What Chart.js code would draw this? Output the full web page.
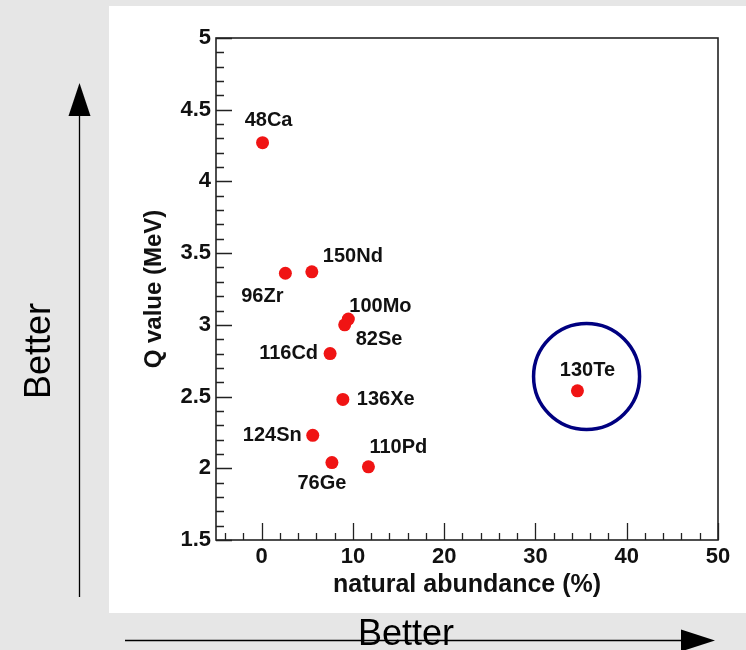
<!DOCTYPE html>
<html>
<head>
<meta charset="utf-8">
<script src="https://cdn.jsdelivr.net/npm/chart.js@4"></script>
<style>
  html, body { margin: 0; padding: 0; background: #e6e6e6; }
  canvas { display: block; }
</style>
</head>
<body>
<canvas id="qChart" width="746" height="650"></canvas>
<script>
// isotopes: natural abundance (%) and Q value (MeV)
var isotopes = ['48Ca', '96Zr', '150Nd', '100Mo', '82Se', '116Cd', '136Xe', '124Sn', '76Ge', '110Pd', '130Te'];
var abundance = [0.1, 2.6, 5.5, 9.5, 9.1, 7.5, 8.9, 5.6, 7.7, 11.7, 34.6];
var qValues = [4.27, 3.36, 3.37, 3.04, 3.00, 2.80, 2.48, 2.23, 2.04, 2.01, 2.54];

// the highlight ring around 130Te
var ringX = [35.6];
var ringY = [2.64];

var xTicks = [0, 10, 20, 30, 40, 50];
var yTicks = [1.5, 2, 2.5, 3, 3.5, 4, 4.5, 5];

// where each name sits next to its point: dx, dy, align
var labelPlace = {
  '48Ca': [6, -22, 'center'],
  '96Zr': [-23, 23, 'center'],
  '150Nd': [11, -15, 'left'],
  '100Mo': [1, -13, 'left'],
  '82Se': [11, 15, 'left'],
  '116Cd': [-12, 0, 'right'],
  '136Xe': [14, 0, 'left'],
  '124Sn': [-11, 0, 'right'],
  '76Ge': [-10, 21, 'center'],
  '110Pd': [1, -19, 'left'],
  '130Te': [10, -20, 'center']
};

var boldFont = '"Liberation Sans", Arial, sans-serif';

// gray page with the white panel behind the plot
var backdrop = {
  id: 'backdrop',
  beforeDraw: function(chart) {
    var ctx = chart.ctx;
    ctx.save();
    ctx.fillStyle = '#e6e6e6';
    ctx.fillRect(0, 0, chart.width, chart.height);
    ctx.fillStyle = '#ffffff';
    ctx.fillRect(109, 6, chart.width - 109, 607);
    ctx.restore();
  }
};

// frame and inward ticks (ROOT style)
var frame = {
  id: 'frame',
  beforeDatasetsDraw: function(chart) {
    var ctx = chart.ctx, a = chart.chartArea;
    var xs = chart.scales.x, ys = chart.scales.y;
    ctx.save();
    ctx.strokeStyle = '#222';
    ctx.lineWidth = 1.3;
    ctx.beginPath();
    var start = Math.ceil(xs.min / 2);
    for (var i = start; i * 2 <= xs.max; i++) {
      var px = Math.round(xs.getPixelForValue(i * 2)) + 0.5;
      var len = (i * 2) % 10 === 0 ? 17 : 7;
      ctx.moveTo(px, a.bottom);
      ctx.lineTo(px, a.bottom - len);
    }
    var n = Math.round((ys.max - ys.min) / 0.1);
    for (var j = 0; j <= n; j++) {
      var py = Math.round(ys.getPixelForValue(ys.min + j * 0.1)) + 0.5;
      var l = j % 5 === 0 ? 16 : 8;
      ctx.moveTo(a.left, py);
      ctx.lineTo(a.left + l, py);
    }
    ctx.stroke();
    ctx.lineWidth = 1.6;
    ctx.strokeRect(a.left, a.top, a.right - a.left, a.bottom - a.top);
    ctx.restore();
  },
  afterDatasetsDraw: function(chart) {
    var ctx = chart.ctx;
    var meta = chart.getDatasetMeta(0);
    ctx.save();
    ctx.fillStyle = '#111';
    ctx.font = 'bold 20px ' + boldFont;
    ctx.textBaseline = 'middle';
    meta.data.forEach(function(el, i) {
      var p = labelPlace[isotopes[i]];
      ctx.textAlign = p[2];
      ctx.fillText(isotopes[i], el.x + p[0], el.y + p[1]);
    });
    ctx.restore();
  }
};

// the two "Better" arrows outside the panel
var arrows = {
  id: 'arrows',
  afterDraw: function(chart) {
    var ctx = chart.ctx;
    ctx.save();
    ctx.strokeStyle = '#000';
    ctx.fillStyle = '#000';
    ctx.lineWidth = 1.3;
    ctx.beginPath();
    ctx.moveTo(79.5, 597);
    ctx.lineTo(79.5, 112);
    ctx.moveTo(125, 640.5);
    ctx.lineTo(684, 640.5);
    ctx.stroke();
    ctx.beginPath();
    ctx.moveTo(79.5, 83);
    ctx.lineTo(68.5, 116);
    ctx.lineTo(90.5, 116);
    ctx.closePath();
    ctx.fill();
    ctx.beginPath();
    ctx.moveTo(715, 640.5);
    ctx.lineTo(681, 629.5);
    ctx.lineTo(681, 651.5);
    ctx.closePath();
    ctx.fill();

    ctx.font = '36px ' + boldFont;
    ctx.textAlign = 'center';
    ctx.textBaseline = 'alphabetic';
    ctx.fillText('Better', 406, 645);
    ctx.translate(50, 351);
    ctx.rotate(-Math.PI / 2);
    ctx.fillText('Better', 0, 0);
    ctx.restore();
  }
};

var ctx = document.getElementById('qChart').getContext('2d');
var qChart = new Chart(ctx, {
  type: 'scatter',
  data: {
    datasets: [{
      data: abundance.map(function(x, i) { return { x: x, y: qValues[i] }; }),
      backgroundColor: '#f01414',
      borderWidth: 0,
      pointRadius: 6.5,
      pointHoverRadius: 6.5
    }, {
      data: ringX.map(function(x, i) { return { x: x, y: ringY[i] }; }),
      backgroundColor: 'rgba(0,0,0,0)',
      borderColor: '#000080',
      borderWidth: 3.5,
      pointRadius: 53,
      pointHoverRadius: 53
    }]
  },
  options: {
    responsive: false,
    animation: false,
    layout: { autoPadding: false, padding: { left: 109, top: 38, right: 28, bottom: 40 } },
    plugins: {
      legend: { display: false },
      tooltip: { enabled: false }
    },
    scales: {
      x: {
        type: 'linear',
        min: -5,
        max: 50,
        afterBuildTicks: function(s) { s.ticks = xTicks.map(function(v) { return { value: v }; }); },
        afterFit: function(s) { s.height = 70; },
        grid: { display: false, drawTicks: false },
        border: { display: false },
        ticks: {
          color: '#111', padding: 4,
          font: { family: boldFont, size: 22, weight: 'bold' },
          callback: function(v) { return String(v); }
        },
        title: {
          display: true,
          text: 'natural abundance (%)',
          color: '#111',
          padding: { top: 0, bottom: 10 },
          font: { family: boldFont, size: 25, weight: 'bold' }
        }
      },
      y: {
        type: 'linear',
        min: 1.5,
        max: 5,
        afterBuildTicks: function(s) { s.ticks = yTicks.map(function(v) { return { value: v }; }); },
        afterFit: function(s) { s.width = 107; },
        grid: { display: false, drawTicks: false },
        border: { display: false },
        ticks: {
          color: '#111', padding: 5,
          font: { family: boldFont, size: 22, weight: 'bold' },
          callback: function(v) { return String(v); }
        },
        title: {
          display: true,
          text: 'Q value (MeV)',
          color: '#111',
          padding: { top: 31, bottom: 0 },
          font: { family: boldFont, size: 24, weight: 'bold' }
        }
      }
    }
  },
  plugins: [backdrop, frame, arrows]
});
</script>
</body>
</html>
